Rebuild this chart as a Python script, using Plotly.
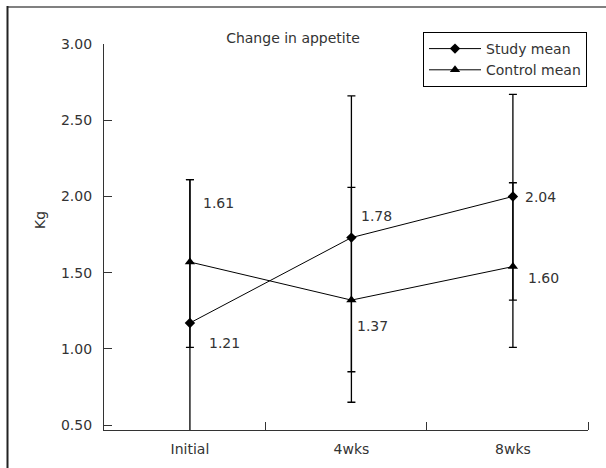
import plotly.graph_objects as go

categories = ["Initial", "4wks", "8wks"]
study_mean = [1.17, 1.73, 2.00]
study_err_plus = [0.94, 0.93, 0.67]
study_err_minus = [0.94, 0.88, 0.68]
control_mean = [1.57, 1.32, 1.54]
control_err_plus = [0.54, 0.74, 0.55]
control_err_minus = [0.56, 0.67, 0.53]
study_labels = ["1.21", "1.78", "2.04"]
control_labels = ["1.61", "1.37", "1.60"]
y_ticks = [0.5, 1.0, 1.5, 2.0, 2.5, 3.0]

FONT = "DejaVu Sans"
W, H = 606, 468
L, R, T, B = 104, 18, 44, 38
xs = list(range(len(categories)))
x_range = [-0.532, 2.465]
y_range = [0.468, 3.0]

fig = go.Figure()
fig.add_trace(go.Scatter(
    x=xs, y=study_mean, mode="lines+markers", name="Study mean",
    line=dict(color="black", width=1),
    marker=dict(symbol="diamond", size=8, color="black"),
    error_y=dict(type="data", symmetric=False, array=study_err_plus,
                 arrayminus=study_err_minus, color="black", thickness=1.3, width=4),
))
fig.add_trace(go.Scatter(
    x=xs, y=control_mean, mode="lines+markers", name="Control mean",
    line=dict(color="black", width=1),
    marker=dict(symbol="triangle-up", size=9, color="black"),
    error_y=dict(type="data", symmetric=False, array=control_err_plus,
                 arrayminus=control_err_minus, color="black", thickness=1.3, width=4),
))

# value labels
study_offsets = [(35, -20), (25, 22), (28, -1)]
control_offsets = [(29, 59), (21, -26), (31, -11)]
for i in xs:
    fig.add_annotation(x=xs[i], y=study_mean[i], text=study_labels[i], showarrow=False,
                       xshift=study_offsets[i][0], yshift=study_offsets[i][1],
                       font=dict(family=FONT, size=14, color="#333"))
    fig.add_annotation(x=xs[i], y=control_mean[i], text=control_labels[i], showarrow=False,
                       xshift=control_offsets[i][0], yshift=control_offsets[i][1],
                       font=dict(family=FONT, size=14, color="#333"))

pw = W - L - R
ph = H - T - B
def px_x(p):
    return (p - L) / pw
def px_y(p):
    return (H - B - p) / ph

# y label
fig.add_annotation(xref="paper", yref="paper", x=px_x(30), y=px_y(220), text="Kg",
                   textangle=-90, showarrow=False,
                   font=dict(family=FONT, size=14, color="#333"))

# outer frame (top and left edges)
fig.add_shape(type="line", xref="paper", yref="paper", x0=px_x(7), x1=px_x(606),
              y0=px_y(7), y1=px_y(7), line=dict(color="#808080", width=2),
              layer="above")
fig.add_shape(type="line", xref="paper", yref="paper", x0=px_x(7.5), x1=px_x(7.5),
              y0=px_y(468), y1=px_y(6), line=dict(color="#222", width=2),
              layer="above")

span = (x_range[1] - x_range[0]) / 3
bounds = [x_range[0] + span * k for k in (1, 2, 3)]

fig.update_layout(
    width=W, height=H,
    margin=dict(l=L, r=R, t=T, b=B),
    paper_bgcolor="white", plot_bgcolor="white",
    font=dict(family=FONT, size=14, color="#333"),
    title=dict(text="Change in appetite", x=293 / W, xanchor="center",
               y=1 - 38 / H, yanchor="middle",
               font=dict(family=FONT, size=14, color="#333")),
    showlegend=True,
    legend=dict(x=px_x(423), y=px_y(32), xanchor="left", yanchor="top",
                bgcolor="white", bordercolor="black", borderwidth=1,
                font=dict(family=FONT, size=14, color="#333"),
                itemwidth=52, tracegroupgap=0),
    xaxis=dict(range=x_range, tickvals=xs, ticktext=categories, ticks="",
               showline=True, linecolor="#333", linewidth=1.3, showgrid=False,
               zeroline=False, ticklabelstandoff=6,
               minor=dict(tickvals=bounds, ticks="inside", ticklen=8,
                          tickcolor="#333", tickwidth=1.3, showgrid=False)),
    yaxis=dict(range=y_range, tickvals=y_ticks, tickformat=".2f", ticks="inside",
               ticklen=8, tickcolor="#333", tickwidth=1.3,
               showline=True, linecolor="#333", linewidth=1.3, showgrid=False,
               zeroline=False, ticklabelstandoff=8),
)

fig.write_html("out.html")
